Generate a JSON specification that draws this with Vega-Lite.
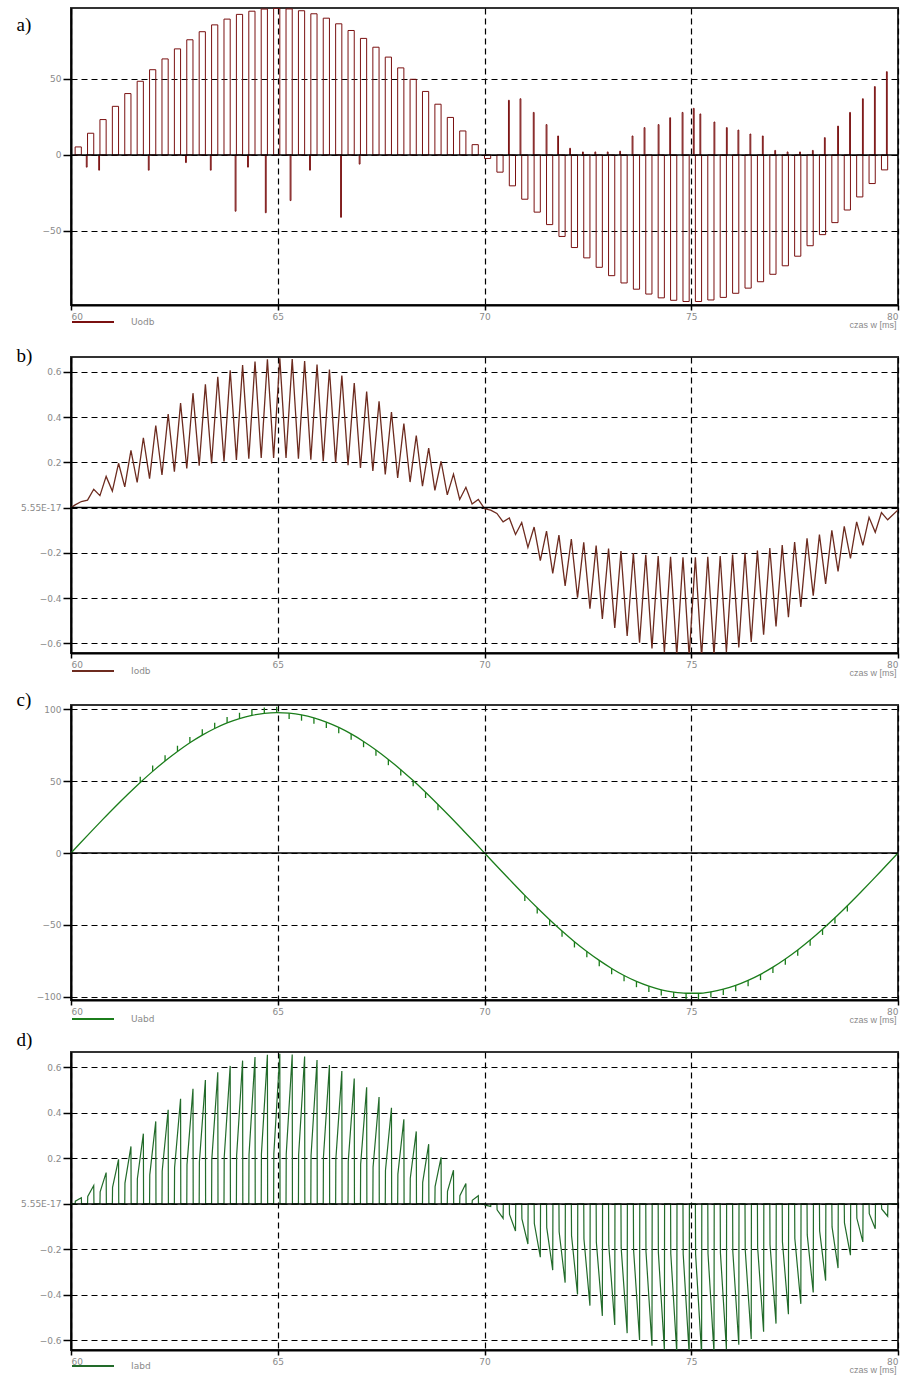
{
"$schema":"https://vega.github.io/schema/vega-lite/v6.json",
"background":"white",
"padding":{"left":15,"top":7,"right":0,"bottom":0},
"config":{
"view":{"stroke":"#333","strokeWidth":2},
"axis":{"domainColor":"#000","domainWidth":2,"tickColor":"#000","tickWidth":1.5,"labelFont":"DejaVu Sans","labelFontSize":9,"labelColor":"#8a8a8a","gridColor":"#000","gridDash":[6,4],"gridWidth":1.2,"gridOpacity":1,"zindex":1,"titleFontWeight":"normal"},
"axisX":{"tickSize":5,"labelPadding":2},
"axisY":{"tickSize":8,"labelPadding":2},
"legend":{"orient":"none","legendX":0,"legendY":292,"padding":0,"symbolType":"stroke","symbolSize":1764,"symbolStrokeWidth":2,"labelFont":"DejaVu Sans","labelFontSize":9,"labelColor":"#8a8a8a","labelOffset":16,"title":null}
},
"datasets":{
"a":[
{"t0":60.10,"t1":60.25,"v":5.3},{"t0":60.40,"t1":60.55,"v":14.3},{"t0":60.70,"t1":60.85,"v":23.3},{"t0":61.00,"t1":61.15,"v":32.0},{"t0":61.30,"t1":61.45,"v":40.4},{"t0":61.60,"t1":61.75,"v":48.5},{"t0":61.90,"t1":62.05,"v":56.1},{"t0":62.20,"t1":62.35,"v":63.2},{"t0":62.50,"t1":62.65,"v":69.8},{"t0":62.80,"t1":62.95,"v":75.8},{"t0":63.10,"t1":63.25,"v":81.1},{"t0":63.40,"t1":63.55,"v":85.6},{"t0":63.70,"t1":63.85,"v":89.4},{"t0":64.00,"t1":64.15,"v":92.5},{"t0":64.30,"t1":64.45,"v":94.6},{"t0":64.60,"t1":64.75,"v":96.0},{"t0":64.90,"t1":65.05,"v":96.5},{"t0":65.20,"t1":65.35,"v":96.1},{"t0":65.50,"t1":65.65,"v":94.9},{"t0":65.80,"t1":65.95,"v":92.9},{"t0":66.10,"t1":66.25,"v":90.0},{"t0":66.40,"t1":66.55,"v":86.3},{"t0":66.70,"t1":66.85,"v":81.9},{"t0":67.00,"t1":67.15,"v":76.7},{"t0":67.30,"t1":67.45,"v":70.9},{"t0":67.60,"t1":67.75,"v":64.4},{"t0":67.90,"t1":68.05,"v":57.3},{"t0":68.20,"t1":68.35,"v":49.8},{"t0":68.50,"t1":68.65,"v":41.8},{"t0":68.80,"t1":68.95,"v":33.4},{"t0":69.10,"t1":69.25,"v":24.7},{"t0":69.40,"t1":69.55,"v":15.8},{"t0":69.70,"t1":69.85,"v":6.8},
{"t0":70.00,"t1":70.15,"v":-2.3},{"t0":70.30,"t1":70.45,"v":-11.3},{"t0":70.60,"t1":70.75,"v":-20.3},{"t0":70.90,"t1":71.05,"v":-29.1},{"t0":71.20,"t1":71.35,"v":-37.6},{"t0":71.50,"t1":71.65,"v":-45.8},{"t0":71.80,"t1":71.95,"v":-53.6},{"t0":72.10,"t1":72.25,"v":-60.9},{"t0":72.40,"t1":72.55,"v":-67.7},{"t0":72.70,"t1":72.85,"v":-73.9},{"t0":73.00,"t1":73.15,"v":-79.4},{"t0":73.30,"t1":73.45,"v":-84.2},{"t0":73.60,"t1":73.75,"v":-88.3},{"t0":73.90,"t1":74.05,"v":-91.5},{"t0":74.20,"t1":74.35,"v":-94.0},{"t0":74.50,"t1":74.65,"v":-95.6},{"t0":74.80,"t1":74.95,"v":-96.4},{"t0":75.10,"t1":75.25,"v":-96.4},{"t0":75.40,"t1":75.55,"v":-95.4},{"t0":75.70,"t1":75.85,"v":-93.7},{"t0":76.00,"t1":76.15,"v":-91.0},{"t0":76.30,"t1":76.45,"v":-87.6},{"t0":76.60,"t1":76.75,"v":-83.4},{"t0":76.90,"t1":77.05,"v":-78.5},{"t0":77.20,"t1":77.35,"v":-72.9},{"t0":77.50,"t1":77.65,"v":-66.6},{"t0":77.80,"t1":77.95,"v":-59.7},{"t0":78.10,"t1":78.25,"v":-52.4},{"t0":78.40,"t1":78.55,"v":-44.5},{"t0":78.70,"t1":78.85,"v":-36.2},{"t0":79.00,"t1":79.15,"v":-27.6},{"t0":79.30,"t1":79.45,"v":-18.8},{"t0":79.60,"t1":79.75,"v":-9.8},
{"t0":60.37,"t1":60.39,"v":-8},{"t0":60.67,"t1":60.69,"v":-10},{"t0":61.87,"t1":61.89,"v":-10},{"t0":62.77,"t1":62.79,"v":-5},{"t0":63.37,"t1":63.39,"v":-10},{"t0":63.97,"t1":63.99,"v":-37},{"t0":64.27,"t1":64.29,"v":-8},{"t0":64.70,"t1":64.72,"v":-38},{"t0":65.30,"t1":65.32,"v":-30},{"t0":65.77,"t1":65.79,"v":-10},{"t0":66.52,"t1":66.54,"v":-41},{"t0":66.97,"t1":66.99,"v":-6},
{"t0":70.58,"t1":70.60,"v":36},{"t0":70.86,"t1":70.88,"v":37},{"t0":71.18,"t1":71.20,"v":28},{"t0":71.49,"t1":71.51,"v":20},{"t0":71.77,"t1":71.79,"v":12.5},{"t0":72.06,"t1":72.08,"v":4.4},{"t0":72.37,"t1":72.39,"v":2},{"t0":72.67,"t1":72.69,"v":2},{"t0":72.97,"t1":72.99,"v":2},{"t0":73.27,"t1":73.29,"v":2.5},{"t0":73.57,"t1":73.59,"v":12.5},{"t0":73.86,"t1":73.88,"v":18},{"t0":74.20,"t1":74.22,"v":20},{"t0":74.48,"t1":74.50,"v":24.5},{"t0":74.78,"t1":74.80,"v":28},{"t0":75.05,"t1":75.07,"v":30.7},{"t0":75.21,"t1":75.23,"v":27},{"t0":75.55,"t1":75.57,"v":21.7},{"t0":75.85,"t1":75.87,"v":18},{"t0":76.13,"t1":76.15,"v":16.4},{"t0":76.42,"t1":76.44,"v":13.8},{"t0":76.72,"t1":76.74,"v":12.5},{"t0":77.02,"t1":77.04,"v":3},{"t0":77.32,"t1":77.34,"v":2},{"t0":77.62,"t1":77.64,"v":2},{"t0":77.93,"t1":77.95,"v":3},{"t0":78.22,"t1":78.24,"v":11.4},{"t0":78.54,"t1":78.56,"v":19},{"t0":78.83,"t1":78.85,"v":28},{"t0":79.14,"t1":79.16,"v":37},{"t0":79.43,"t1":79.45,"v":45},{"t0":79.72,"t1":79.74,"v":54.8}
],
"b":[
{"t":60,"v":0},
{"t":60.10,"v":0.012},{"t":60.25,"v":0.027},{"t":60.40,"v":0.033},{"t":60.55,"v":0.081},{"t":60.70,"v":0.053},{"t":60.85,"v":0.138},{"t":61.00,"v":0.073},{"t":61.15,"v":0.196},{"t":61.30,"v":0.092},{"t":61.45,"v":0.253},{"t":61.60,"v":0.111},{"t":61.75,"v":0.309},{"t":61.90,"v":0.128},{"t":62.05,"v":0.363},{"t":62.20,"v":0.144},{"t":62.35,"v":0.414},{"t":62.50,"v":0.159},{"t":62.65,"v":0.462},{"t":62.80,"v":0.173},{"t":62.95,"v":0.506},{"t":63.10,"v":0.185},{"t":63.25,"v":0.545},{"t":63.40,"v":0.195},{"t":63.55,"v":0.579},{"t":63.70,"v":0.204},{"t":63.85,"v":0.607},{"t":64.00,"v":0.211},{"t":64.15,"v":0.630},{"t":64.30,"v":0.216},{"t":64.45,"v":0.646},{"t":64.60,"v":0.219},{"t":64.75,"v":0.656},{"t":64.90,"v":0.220},{"t":65.05,"v":0.660},{"t":65.20,"v":0.219},{"t":65.35,"v":0.657},{"t":65.50,"v":0.216},{"t":65.65,"v":0.648},{"t":65.80,"v":0.212},{"t":65.95,"v":0.633},{"t":66.10,"v":0.205},{"t":66.25,"v":0.611},{"t":66.40,"v":0.197},{"t":66.55,"v":0.584},{"t":66.70,"v":0.187},{"t":66.85,"v":0.551},{"t":67.00,"v":0.175},{"t":67.15,"v":0.513},{"t":67.30,"v":0.162},{"t":67.45,"v":0.470},{"t":67.60,"v":0.147},{"t":67.75,"v":0.423},{"t":67.90,"v":0.131},{"t":68.05,"v":0.372},{"t":68.20,"v":0.113},{"t":68.35,"v":0.319},{"t":68.50,"v":0.095},{"t":68.65,"v":0.263},{"t":68.80,"v":0.076},{"t":68.95,"v":0.205},{"t":69.10,"v":0.056},{"t":69.25,"v":0.148},{"t":69.40,"v":0.036},{"t":69.55,"v":0.090},{"t":69.70,"v":0.016},{"t":69.85,"v":0.036},
{"t":70.00,"v":-0.005},{"t":70.15,"v":-0.011},{"t":70.30,"v":-0.026},{"t":70.45,"v":-0.063},{"t":70.60,"v":-0.046},{"t":70.75,"v":-0.119},{"t":70.90,"v":-0.066},{"t":71.05,"v":-0.176},{"t":71.20,"v":-0.086},{"t":71.35,"v":-0.234},{"t":71.50,"v":-0.104},{"t":71.65,"v":-0.291},{"t":71.80,"v":-0.122},{"t":71.95,"v":-0.346},{"t":72.10,"v":-0.139},{"t":72.25,"v":-0.398},{"t":72.40,"v":-0.154},{"t":72.55,"v":-0.447},{"t":72.70,"v":-0.168},{"t":72.85,"v":-0.492},{"t":73.00,"v":-0.181},{"t":73.15,"v":-0.532},{"t":73.30,"v":-0.192},{"t":73.45,"v":-0.568},{"t":73.60,"v":-0.201},{"t":73.75,"v":-0.598},{"t":73.90,"v":-0.209},{"t":74.05,"v":-0.623},{"t":74.20,"v":-0.214},{"t":74.35,"v":-0.641},{"t":74.50,"v":-0.218},{"t":74.65,"v":-0.654},{"t":74.80,"v":-0.220},{"t":74.95,"v":-0.659},{"t":75.10,"v":-0.220},{"t":75.25,"v":-0.659},{"t":75.40,"v":-0.218},{"t":75.55,"v":-0.652},{"t":75.70,"v":-0.214},{"t":75.85,"v":-0.639},{"t":76.00,"v":-0.208},{"t":76.15,"v":-0.619},{"t":76.30,"v":-0.200},{"t":76.45,"v":-0.594},{"t":76.60,"v":-0.190},{"t":76.75,"v":-0.562},{"t":76.90,"v":-0.179},{"t":77.05,"v":-0.526},{"t":77.20,"v":-0.166},{"t":77.35,"v":-0.485},{"t":77.50,"v":-0.152},{"t":77.65,"v":-0.439},{"t":77.80,"v":-0.136},{"t":77.95,"v":-0.389},{"t":78.10,"v":-0.119},{"t":78.25,"v":-0.337},{"t":78.40,"v":-0.101},{"t":78.55,"v":-0.282},{"t":78.70,"v":-0.083},{"t":78.85,"v":-0.225},{"t":79.00,"v":-0.063},{"t":79.15,"v":-0.167},{"t":79.30,"v":-0.043},{"t":79.45,"v":-0.109},{"t":79.60,"v":-0.022},{"t":79.75,"v":-0.054},{"t":80.00,"v":-0.01}
],
"c":[
{"t":60,"v":0},{"t":60.175,"v":5.4},{"t":60.475,"v":14.5},{"t":60.775,"v":23.5},{"t":61.075,"v":32.3},{"t":61.375,"v":40.8},{"t":61.675,"v":49.0},{"t":61.975,"v":56.7},{"t":62.275,"v":63.9},{"t":62.575,"v":70.5},{"t":62.875,"v":76.6},{"t":63.175,"v":81.9},{"t":63.475,"v":86.5},{"t":63.775,"v":90.4},{"t":64.075,"v":93.4},{"t":64.375,"v":95.6},{"t":64.675,"v":97.0},{"t":64.975,"v":97.5},{"t":65.275,"v":97.1},{"t":65.575,"v":95.9},{"t":65.875,"v":93.8},{"t":66.175,"v":90.9},{"t":66.475,"v":87.2},{"t":66.775,"v":82.7},{"t":67.075,"v":77.5},{"t":67.375,"v":71.6},{"t":67.675,"v":65.0},{"t":67.975,"v":57.9},{"t":68.275,"v":50.3},{"t":68.575,"v":42.2},{"t":68.875,"v":33.7},{"t":69.175,"v":25.0},{"t":69.475,"v":16.0},{"t":69.775,"v":6.9},{"t":70.075,"v":-2.3},{"t":70.375,"v":-11.5},{"t":70.675,"v":-20.5},{"t":70.975,"v":-29.4},{"t":71.275,"v":-38.0},{"t":71.575,"v":-46.3},{"t":71.875,"v":-54.2},{"t":72.175,"v":-61.6},{"t":72.475,"v":-68.4},{"t":72.775,"v":-74.6},{"t":73.075,"v":-80.2},{"t":73.375,"v":-85.1},{"t":73.675,"v":-89.2},{"t":73.975,"v":-92.5},{"t":74.275,"v":-95.0},{"t":74.575,"v":-96.6},{"t":74.875,"v":-97.4},{"t":75.175,"v":-97.4},{"t":75.475,"v":-96.4},{"t":75.775,"v":-94.6},{"t":76.075,"v":-92.0},{"t":76.375,"v":-88.5},{"t":76.675,"v":-84.3},{"t":76.975,"v":-79.3},{"t":77.275,"v":-73.6},{"t":77.575,"v":-67.3},{"t":77.875,"v":-60.4},{"t":78.175,"v":-52.9},{"t":78.475,"v":-45.0},{"t":78.775,"v":-36.6},{"t":79.075,"v":-27.9},{"t":79.375,"v":-19.0},{"t":79.675,"v":-9.9},{"t":80,"v":0}
],
"ct":[
{"t":61.675,"a":49.0,"b":53.0},{"t":61.975,"a":56.7,"b":60.7},{"t":62.275,"a":63.9,"b":67.9},{"t":62.575,"a":70.5,"b":74.5},{"t":62.875,"a":76.6,"b":80.6},{"t":63.175,"a":81.9,"b":85.9},{"t":63.475,"a":86.5,"b":90.5},{"t":63.775,"a":90.4,"b":94.4},{"t":64.075,"a":93.4,"b":97.4},{"t":64.375,"a":95.6,"b":99.6},{"t":64.675,"a":97.0,"b":101.0},{"t":64.975,"a":97.5,"b":101.5},{"t":65.275,"a":97.1,"b":93.1},{"t":65.575,"a":95.9,"b":91.9},{"t":65.875,"a":93.8,"b":89.8},{"t":66.175,"a":90.9,"b":86.9},{"t":66.475,"a":87.2,"b":83.2},{"t":66.775,"a":82.7,"b":78.7},{"t":67.075,"a":77.5,"b":73.5},{"t":67.375,"a":71.6,"b":67.6},{"t":67.675,"a":65.0,"b":61.0},{"t":67.975,"a":57.9,"b":53.9},{"t":68.275,"a":50.3,"b":46.3},{"t":68.575,"a":42.2,"b":38.2},{"t":68.875,"a":33.7,"b":29.7},
{"t":70.975,"a":-29.4,"b":-33.4},{"t":71.275,"a":-38.0,"b":-42.0},{"t":71.575,"a":-46.3,"b":-50.3},{"t":71.875,"a":-54.2,"b":-58.2},{"t":72.175,"a":-61.6,"b":-65.6},{"t":72.475,"a":-68.4,"b":-72.4},{"t":72.775,"a":-74.6,"b":-78.6},{"t":73.075,"a":-80.2,"b":-84.2},{"t":73.375,"a":-85.1,"b":-89.1},{"t":73.675,"a":-89.2,"b":-93.2},{"t":73.975,"a":-92.5,"b":-96.5},{"t":74.275,"a":-95.0,"b":-99.0},{"t":74.575,"a":-96.6,"b":-100.6},{"t":74.875,"a":-97.4,"b":-101.4},{"t":75.175,"a":-97.4,"b":-101.4},{"t":75.475,"a":-96.4,"b":-100.4},{"t":75.775,"a":-94.6,"b":-98.6},{"t":76.075,"a":-92.0,"b":-96.0},{"t":76.375,"a":-88.5,"b":-92.5},{"t":76.675,"a":-84.3,"b":-88.3},{"t":76.975,"a":-79.3,"b":-83.3},{"t":77.275,"a":-73.6,"b":-77.6},{"t":77.575,"a":-67.3,"b":-71.3},{"t":77.875,"a":-60.4,"b":-64.4},{"t":78.175,"a":-52.9,"b":-56.9},{"t":78.475,"a":-45.0,"b":-49.0},{"t":78.775,"a":-36.6,"b":-40.6}
],
"d":[
{"t":60,"v":0},
{"t":60.10,"v":0},{"t":60.105,"v":0.012},{"t":60.25,"v":0.027},{"t":60.255,"v":0},
{"t":60.40,"v":0},{"t":60.405,"v":0.033},{"t":60.55,"v":0.081},{"t":60.555,"v":0},
{"t":60.70,"v":0},{"t":60.705,"v":0.053},{"t":60.85,"v":0.138},{"t":60.855,"v":0},
{"t":61.00,"v":0},{"t":61.005,"v":0.073},{"t":61.15,"v":0.196},{"t":61.155,"v":0},
{"t":61.30,"v":0},{"t":61.305,"v":0.092},{"t":61.45,"v":0.253},{"t":61.455,"v":0},
{"t":61.60,"v":0},{"t":61.605,"v":0.111},{"t":61.75,"v":0.309},{"t":61.755,"v":0},
{"t":61.90,"v":0},{"t":61.905,"v":0.128},{"t":62.05,"v":0.363},{"t":62.055,"v":0},
{"t":62.20,"v":0},{"t":62.205,"v":0.144},{"t":62.35,"v":0.414},{"t":62.355,"v":0},
{"t":62.50,"v":0},{"t":62.505,"v":0.159},{"t":62.65,"v":0.462},{"t":62.655,"v":0},
{"t":62.80,"v":0},{"t":62.805,"v":0.173},{"t":62.95,"v":0.506},{"t":62.955,"v":0},
{"t":63.10,"v":0},{"t":63.105,"v":0.185},{"t":63.25,"v":0.545},{"t":63.255,"v":0},
{"t":63.40,"v":0},{"t":63.405,"v":0.195},{"t":63.55,"v":0.579},{"t":63.555,"v":0},
{"t":63.70,"v":0},{"t":63.705,"v":0.204},{"t":63.85,"v":0.607},{"t":63.855,"v":0},
{"t":64.00,"v":0},{"t":64.005,"v":0.211},{"t":64.15,"v":0.630},{"t":64.155,"v":0},
{"t":64.30,"v":0},{"t":64.305,"v":0.216},{"t":64.45,"v":0.646},{"t":64.455,"v":0},
{"t":64.60,"v":0},{"t":64.605,"v":0.219},{"t":64.75,"v":0.656},{"t":64.755,"v":0},
{"t":64.90,"v":0},{"t":64.905,"v":0.220},{"t":65.05,"v":0.660},{"t":65.055,"v":0},
{"t":65.20,"v":0},{"t":65.205,"v":0.219},{"t":65.35,"v":0.657},{"t":65.355,"v":0},
{"t":65.50,"v":0},{"t":65.505,"v":0.216},{"t":65.65,"v":0.648},{"t":65.655,"v":0},
{"t":65.80,"v":0},{"t":65.805,"v":0.212},{"t":65.95,"v":0.633},{"t":65.955,"v":0},
{"t":66.10,"v":0},{"t":66.105,"v":0.205},{"t":66.25,"v":0.611},{"t":66.255,"v":0},
{"t":66.40,"v":0},{"t":66.405,"v":0.197},{"t":66.55,"v":0.584},{"t":66.555,"v":0},
{"t":66.70,"v":0},{"t":66.705,"v":0.187},{"t":66.85,"v":0.551},{"t":66.855,"v":0},
{"t":67.00,"v":0},{"t":67.005,"v":0.175},{"t":67.15,"v":0.513},{"t":67.155,"v":0},
{"t":67.30,"v":0},{"t":67.305,"v":0.162},{"t":67.45,"v":0.470},{"t":67.455,"v":0},
{"t":67.60,"v":0},{"t":67.605,"v":0.147},{"t":67.75,"v":0.423},{"t":67.755,"v":0},
{"t":67.90,"v":0},{"t":67.905,"v":0.131},{"t":68.05,"v":0.372},{"t":68.055,"v":0},
{"t":68.20,"v":0},{"t":68.205,"v":0.113},{"t":68.35,"v":0.319},{"t":68.355,"v":0},
{"t":68.50,"v":0},{"t":68.505,"v":0.095},{"t":68.65,"v":0.263},{"t":68.655,"v":0},
{"t":68.80,"v":0},{"t":68.805,"v":0.076},{"t":68.95,"v":0.205},{"t":68.955,"v":0},
{"t":69.10,"v":0},{"t":69.105,"v":0.056},{"t":69.25,"v":0.148},{"t":69.255,"v":0},
{"t":69.40,"v":0},{"t":69.405,"v":0.036},{"t":69.55,"v":0.090},{"t":69.555,"v":0},
{"t":69.70,"v":0},{"t":69.705,"v":0.016},{"t":69.85,"v":0.036},{"t":69.855,"v":0},
{"t":70.00,"v":0},{"t":70.005,"v":-0.005},{"t":70.15,"v":-0.011},{"t":70.155,"v":0},
{"t":70.30,"v":0},{"t":70.305,"v":-0.026},{"t":70.45,"v":-0.063},{"t":70.455,"v":0},
{"t":70.60,"v":0},{"t":70.605,"v":-0.046},{"t":70.75,"v":-0.119},{"t":70.755,"v":0},
{"t":70.90,"v":0},{"t":70.905,"v":-0.066},{"t":71.05,"v":-0.176},{"t":71.055,"v":0},
{"t":71.20,"v":0},{"t":71.205,"v":-0.086},{"t":71.35,"v":-0.234},{"t":71.355,"v":0},
{"t":71.50,"v":0},{"t":71.505,"v":-0.104},{"t":71.65,"v":-0.291},{"t":71.655,"v":0},
{"t":71.80,"v":0},{"t":71.805,"v":-0.122},{"t":71.95,"v":-0.346},{"t":71.955,"v":0},
{"t":72.10,"v":0},{"t":72.105,"v":-0.139},{"t":72.25,"v":-0.398},{"t":72.255,"v":0},
{"t":72.40,"v":0},{"t":72.405,"v":-0.154},{"t":72.55,"v":-0.447},{"t":72.555,"v":0},
{"t":72.70,"v":0},{"t":72.705,"v":-0.168},{"t":72.85,"v":-0.492},{"t":72.855,"v":0},
{"t":73.00,"v":0},{"t":73.005,"v":-0.181},{"t":73.15,"v":-0.532},{"t":73.155,"v":0},
{"t":73.30,"v":0},{"t":73.305,"v":-0.192},{"t":73.45,"v":-0.568},{"t":73.455,"v":0},
{"t":73.60,"v":0},{"t":73.605,"v":-0.201},{"t":73.75,"v":-0.598},{"t":73.755,"v":0},
{"t":73.90,"v":0},{"t":73.905,"v":-0.209},{"t":74.05,"v":-0.623},{"t":74.055,"v":0},
{"t":74.20,"v":0},{"t":74.205,"v":-0.214},{"t":74.35,"v":-0.641},{"t":74.355,"v":0},
{"t":74.50,"v":0},{"t":74.505,"v":-0.218},{"t":74.65,"v":-0.654},{"t":74.655,"v":0},
{"t":74.80,"v":0},{"t":74.805,"v":-0.220},{"t":74.95,"v":-0.659},{"t":74.955,"v":0},
{"t":75.10,"v":0},{"t":75.105,"v":-0.220},{"t":75.25,"v":-0.659},{"t":75.255,"v":0},
{"t":75.40,"v":0},{"t":75.405,"v":-0.218},{"t":75.55,"v":-0.652},{"t":75.555,"v":0},
{"t":75.70,"v":0},{"t":75.705,"v":-0.214},{"t":75.85,"v":-0.639},{"t":75.855,"v":0},
{"t":76.00,"v":0},{"t":76.005,"v":-0.208},{"t":76.15,"v":-0.619},{"t":76.155,"v":0},
{"t":76.30,"v":0},{"t":76.305,"v":-0.200},{"t":76.45,"v":-0.594},{"t":76.455,"v":0},
{"t":76.60,"v":0},{"t":76.605,"v":-0.190},{"t":76.75,"v":-0.562},{"t":76.755,"v":0},
{"t":76.90,"v":0},{"t":76.905,"v":-0.179},{"t":77.05,"v":-0.526},{"t":77.055,"v":0},
{"t":77.20,"v":0},{"t":77.205,"v":-0.166},{"t":77.35,"v":-0.485},{"t":77.355,"v":0},
{"t":77.50,"v":0},{"t":77.505,"v":-0.152},{"t":77.65,"v":-0.439},{"t":77.655,"v":0},
{"t":77.80,"v":0},{"t":77.805,"v":-0.136},{"t":77.95,"v":-0.389},{"t":77.955,"v":0},
{"t":78.10,"v":0},{"t":78.105,"v":-0.119},{"t":78.25,"v":-0.337},{"t":78.255,"v":0},
{"t":78.40,"v":0},{"t":78.405,"v":-0.101},{"t":78.55,"v":-0.282},{"t":78.555,"v":0},
{"t":78.70,"v":0},{"t":78.705,"v":-0.083},{"t":78.85,"v":-0.225},{"t":78.855,"v":0},
{"t":79.00,"v":0},{"t":79.005,"v":-0.063},{"t":79.15,"v":-0.167},{"t":79.155,"v":0},
{"t":79.30,"v":0},{"t":79.305,"v":-0.043},{"t":79.45,"v":-0.109},{"t":79.455,"v":0},
{"t":79.60,"v":0},{"t":79.605,"v":-0.022},{"t":79.75,"v":-0.054},{"t":79.755,"v":0},
{"t":80,"v":0}
]
},
"spacing":52,
"bounds":"flush",
"resolve":{"scale":{"color":"independent","x":"independent","y":"independent"},"legend":{"color":"independent"}},
"vconcat":[
{"width":827,"height":297,
"layer":[
{"data":{"name":"a"},"mark":{"type":"rect","filled":false,"strokeWidth":1,"clip":true},
"encoding":{
"x":{"field":"t0","type":"quantitative","scale":{"domain":[60,80],"nice":false,"zero":false},"axis":{"values":[60,65,70,75,80],"title":"czas w [ms]","titleFontSize":9,"titleColor":"#8a8a8a","titleAlign":"right","titleAnchor":"end","titleX":825,"titleY":19,"titleBaseline":"middle"}},
"x2":{"field":"t1"},
"y":{"field":"v","type":"quantitative","scale":{"domain":[-98.7,96.7],"nice":false,"zero":false},"axis":{"values":[-50,0,50],"title":"a)","titleAngle":0,"titleAlign":"left","titleBaseline":"alphabetic","titleX":-55,"titleY":22.7,"titleFont":"Liberation Serif","titleFontSize":19,"titleColor":"#000"}},
"y2":{"datum":0},
"color":{"datum":"Uodb","type":"nominal","scale":{"range":["#7a1010"]},"legend":{"symbolType":"stroke"}}}},
{"data":{"values":[{}]},"mark":{"type":"rule","color":"#000","strokeWidth":1.5},"encoding":{"y":{"datum":0,"type":"quantitative"}}}
]},
{"width":827,"height":296,
"layer":[
{"data":{"name":"b"},"mark":{"type":"line","strokeWidth":1.3,"clip":true},
"encoding":{
"x":{"field":"t","type":"quantitative","scale":{"domain":[60,80],"nice":false,"zero":false},"axis":{"values":[60,65,70,75,80],"title":"czas w [ms]","titleFontSize":9,"titleColor":"#8a8a8a","titleAlign":"right","titleAnchor":"end","titleX":825,"titleY":19,"titleBaseline":"middle"}},
"y":{"field":"v","type":"quantitative","scale":{"domain":[-0.643,0.666],"nice":false,"zero":false},"axis":{"values":[-0.6,-0.4,-0.2,0,0.2,0.4,0.6],"labelExpr":"datum.value == 0 ? '5.55E-17' : format(datum.value, '.1f')","title":"b)","titleAngle":0,"titleAlign":"left","titleBaseline":"alphabetic","titleX":-55,"titleY":4.7,"titleFont":"Liberation Serif","titleFontSize":19,"titleColor":"#000"}},
"color":{"datum":"Iodb","type":"nominal","scale":{"range":["#6d2b1f"]},"legend":{}}}},
{"data":{"values":[{}]},"mark":{"type":"rule","color":"#000","strokeWidth":1.5},"encoding":{"y":{"datum":0,"type":"quantitative"}}}
]},
{"width":827,"height":295,
"layer":[
{"data":{"name":"c"},"mark":{"type":"line","strokeWidth":1.3,"clip":true,"interpolate":"monotone"},
"encoding":{
"x":{"field":"t","type":"quantitative","scale":{"domain":[60,80],"nice":false,"zero":false},"axis":{"values":[60,65,70,75,80],"title":"czas w [ms]","titleFontSize":9,"titleColor":"#8a8a8a","titleAlign":"right","titleAnchor":"end","titleX":825,"titleY":19,"titleBaseline":"middle"}},
"y":{"field":"v","type":"quantitative","scale":{"domain":[-102.1,102.8],"nice":false,"zero":false},"axis":{"values":[-100,-50,0,50,100],"title":"c)","titleAngle":0,"titleAlign":"left","titleBaseline":"alphabetic","titleX":-55,"titleY":0,"titleFont":"Liberation Serif","titleFontSize":19,"titleColor":"#000"}},
"color":{"datum":"Uabd","type":"nominal","scale":{"range":["#1b7d1b"]},"legend":{}}}},
{"data":{"name":"ct"},"mark":{"type":"rule","strokeWidth":1.3,"clip":true},
"encoding":{"x":{"field":"t","type":"quantitative"},"y":{"field":"a","type":"quantitative"},"y2":{"field":"b"},"color":{"datum":"Uabd","type":"nominal"}}},
{"data":{"values":[{}]},"mark":{"type":"rule","color":"#000","strokeWidth":1.5},"encoding":{"y":{"datum":0,"type":"quantitative"}}}
]},
{"width":827,"height":298,
"layer":[
{"data":{"name":"d"},"mark":{"type":"line","strokeWidth":1.2,"clip":true},
"encoding":{
"x":{"field":"t","type":"quantitative","scale":{"domain":[60,80],"nice":false,"zero":false},"axis":{"values":[60,65,70,75,80],"title":"czas w [ms]","titleFontSize":9,"titleColor":"#8a8a8a","titleAlign":"right","titleAnchor":"end","titleX":825,"titleY":19,"titleBaseline":"middle"}},
"y":{"field":"v","type":"quantitative","scale":{"domain":[-0.642,0.668],"nice":false,"zero":false},"axis":{"values":[-0.6,-0.4,-0.2,0,0.2,0.4,0.6],"labelExpr":"datum.value == 0 ? '5.55E-17' : format(datum.value, '.1f')","title":"d)","titleAngle":0,"titleAlign":"left","titleBaseline":"alphabetic","titleX":-55,"titleY":-7,"titleFont":"Liberation Serif","titleFontSize":19,"titleColor":"#000"}},
"color":{"datum":"Iabd","type":"nominal","scale":{"range":["#226b2a"]},"legend":{}}}},
{"data":{"values":[{}]},"mark":{"type":"rule","color":"#000","strokeWidth":1.5},"encoding":{"y":{"datum":0,"type":"quantitative"}}}
]}
]
}
